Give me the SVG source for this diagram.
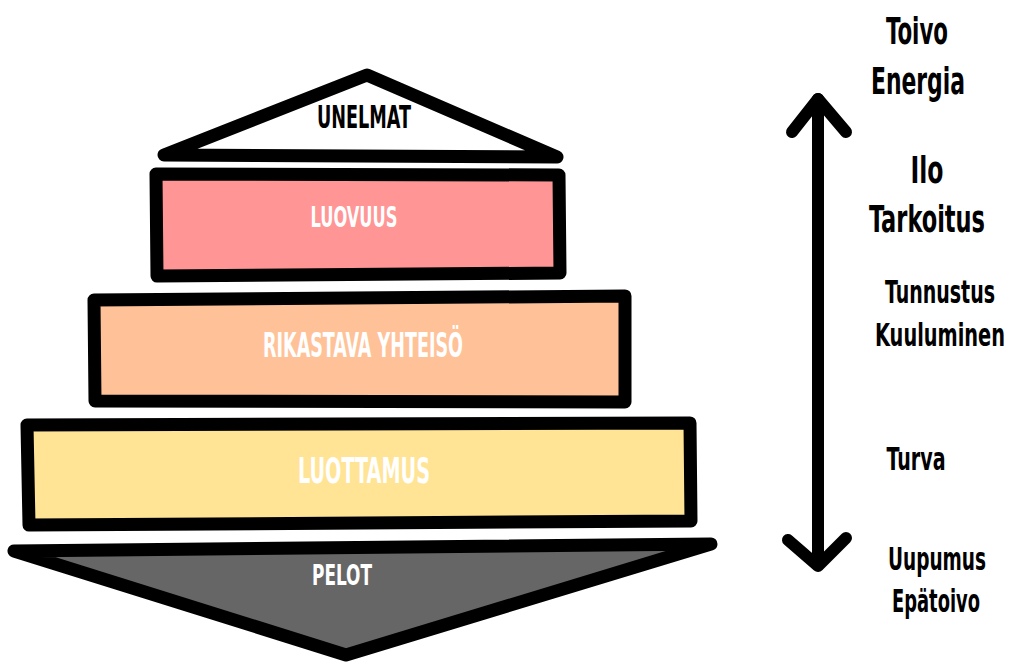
<svg xmlns="http://www.w3.org/2000/svg" width="1010" height="664" viewBox="0 0 1010 664">
  <style>
    .outline { stroke: #000; stroke-width: 13; stroke-linejoin: round; stroke-linecap: round; }
    .lbl { font-family: "Liberation Sans Narrow", "DejaVu Sans Condensed", "Liberation Sans", sans-serif; font-weight: bold; text-anchor: middle; }
    .in { fill: #fff; }
    .side { fill: #000; }
    .arrow { fill: none; stroke: #000; stroke-width: 12; stroke-linecap: round; stroke-linejoin: round; }
  </style>
  <rect width="1010" height="664" fill="#fff"/>

  <g id="unelmat">
    <path class="outline" d="M164 155 L367 75 L557 157 Z" fill="#fff"/>
    <text class="lbl" x="364" y="128" font-size="32" textLength="94" lengthAdjust="spacingAndGlyphs" fill="#000">UNELMAT</text>
  </g>

  <g id="luovuus">
    <path class="outline" d="M156 174 L559 175 L560 273 L157 276 Z" fill="#FF9595"/>
    <text class="in lbl" x="354" y="227" font-size="28" textLength="87" lengthAdjust="spacingAndGlyphs">LUOVUUS</text>
  </g>

  <g id="rikastava-yhteiso">
    <path class="outline" d="M94 300 L625 296 L625 402 L95 401 Z" fill="#FFC298"/>
    <text class="in lbl" x="363" y="357" font-size="33" textLength="200" lengthAdjust="spacingAndGlyphs">RIKASTAVA YHTEISÖ</text>
  </g>

  <g id="luottamus">
    <path class="outline" d="M27 425 L690 423 L691 521 L29 525 Z" fill="#FFE496"/>
    <text class="in lbl" x="364" y="483" font-size="36" textLength="132" lengthAdjust="spacingAndGlyphs">LUOTTAMUS</text>
  </g>

  <g id="pelot">
    <path class="outline" d="M14 551 L711 544 L346 655 Z" fill="#666"/>
    <text class="in lbl" x="342" y="585" font-size="29" textLength="60" lengthAdjust="spacingAndGlyphs">PELOT</text>
  </g>

  <g id="connectors">
    <path class="arrow" d="M818 99 L818 565"/>
    <path class="arrow" d="M792 132 L818 99 L846 132"/>
    <path class="arrow" d="M788 540 L818 566 L846 538"/>
  </g>

  <g id="side-labels">
    <text class="side lbl" x="917" y="44" font-size="38" textLength="62" lengthAdjust="spacingAndGlyphs">Toivo</text>
    <text class="side lbl" x="918" y="94" font-size="38" textLength="94" lengthAdjust="spacingAndGlyphs">Energia</text>
    <text class="side lbl" x="927" y="183" font-size="38" textLength="33" lengthAdjust="spacingAndGlyphs">Ilo</text>
    <text class="side lbl" x="927" y="232" font-size="38" textLength="116" lengthAdjust="spacingAndGlyphs">Tarkoitus</text>
    <text class="side lbl" x="940" y="303" font-size="32" textLength="110" lengthAdjust="spacingAndGlyphs">Tunnustus</text>
    <text class="side lbl" x="940" y="346" font-size="32" textLength="130" lengthAdjust="spacingAndGlyphs">Kuuluminen</text>
    <text class="side lbl" x="916" y="470" font-size="32" textLength="59" lengthAdjust="spacingAndGlyphs">Turva</text>
    <text class="side lbl" x="937" y="570" font-size="32" textLength="98" lengthAdjust="spacingAndGlyphs">Uupumus</text>
    <text class="side lbl" x="936" y="612" font-size="32" textLength="88" lengthAdjust="spacingAndGlyphs">Epätoivo</text>
  </g>
</svg>
